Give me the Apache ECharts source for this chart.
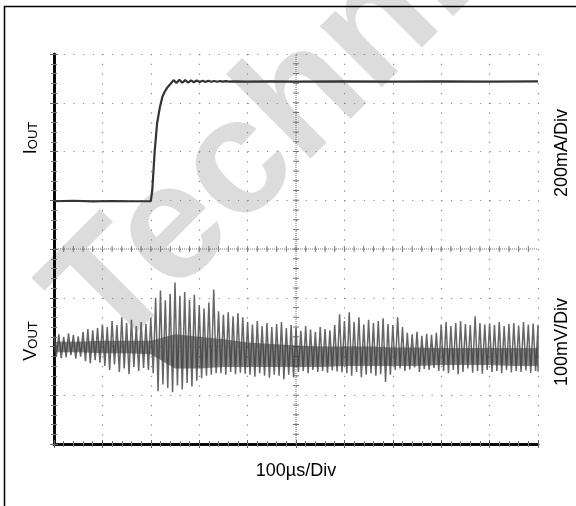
<!DOCTYPE html>
<html><head><meta charset="utf-8">
<script src="https://cdn.jsdelivr.net/npm/echarts@6/dist/echarts.min.js"></script>
<style>html,body{margin:0;padding:0;background:#fff}#c{width:576px;height:506px}</style>
</head><body><div id="c"></div>
<script>
// ---------- data ----------
// Output current IOUT (mA) at time (µs)
const iTime = [0, 40, 80, 120, 160, 200, 203, 208, 213, 219, 224, 229, 235, 241, 247, 253, 259, 265, 271, 277, 283, 289, 295, 301, 307, 313, 319, 325, 331, 337, 343, 349, 355, 361, 370, 400, 450, 500, 600, 700, 800, 900, 1000];
const iOut  = [-4, -2, -5, -3, -4, -4, 40, 200, 316, 384, 425, 446, 465, 478, 493, 481, 494, 482, 493, 483, 492, 484, 491, 485, 490, 485, 490, 486, 489, 486, 489, 487, 489, 487, 488, 487, 488, 487, 488, 487, 488, 487, 488];

// Output voltage VOUT ripple envelope (mV, AC coupled), one sample every 10 µs from 0 to 1000 µs
const vStepUs = 10;
const vHigh = [22, 25, 20, 27, 24, 21,
  30, 36, 33, 38,
  45, 40, 52, 44, 60, 48, 55, 42, 50, 46,
  58,
  100, 115, 95, 108, 131, 104, 112, 96, 106,
  85, 78, 90, 117,
  72, 65, 70, 62, 68, 60,
  50, 45, 52, 42, 48, 40, 46, 50, 38, 44,
  38, 32, 42, 35, 30, 40, 36, 33, 44, 66,
  52, 70, 50, 60, 45, 55, 48, 52, 58, 46,
  44, 60, 40, 28, 25, 30, 22, 26, 24, 28,
  45, 50, 42, 48, 52, 46, 44, 62, 48, 45,
  47, 44, 50, 42, 46, 48, 43, 50, 45, 47, 44];
const vLow = [-20, -24, -22, -18, -25, -21,
  -30, -34, -28, -33,
  -40, -48, -37, -52, -45, -57, -42, -50, -44, -48,
  -55,
  -92, -78, -85, -94, -80, -88, -75, -82, -70,
  -65, -60, -58, -55,
  -55, -58, -52, -57, -54, -56,
  -58, -62, -55, -60, -64, -58, -60, -67, -58, -63,
  -52, -50, -55, -48, -52, -50, -54, -49, -51, -53,
  -55, -60, -52, -63, -58, -55, -60, -57, -73, -58,
  -48, -45, -50, -47, -43, -52, -46, -48, -44, -50,
  -50, -55, -48, -57, -52, -45, -54, -50, -56, -48,
  -52, -50, -55, -48, -53, -50, -52, -49, -54, -50, -52];

// Dense dark core of the VOUT trace (mV), one sample every 50 µs
const coreStepUs = 50;
const coreHigh = [10, 10, 12, 12, 12, 25, 20, 15, 8, 5, 2, 0, 0, 0, -2, -2, -3, -3, -3, -3, -3];
const coreLow  = [-12, -12, -14, -14, -16, -45, -45, -42, -42, -42, -42, -42, -40, -40, -40, -40, -38, -38, -38, -40, -40];

// Texts
const timeLabel = '100µs/Div';
const iScaleLabel = '200mA/Div';
const vScaleLabel = '100mV/Div';
const watermark = 'Technical';

// ---------- chart ----------
const FONT = '"Liberation Sans", Arial, sans-serif';
const chart = echarts.init(document.getElementById('c'), null, {renderer: 'canvas'});

const iData = iTime.map((t, k) => [t, iOut[k]]);
const vZig = [];
vHigh.forEach((h, k) => {
  const t = k * vStepUs;
  vZig.push([t, h]);
  vZig.push([Math.min(t + vStepUs / 2, 1000), vLow[k]]);
});

const frameAxisCommon = {
  type: 'value',
  axisLine: {show: true, lineStyle: {color: '#000', width: 2.5}},
  axisTick: {show: true, inside: true, length: 4, lineStyle: {color: '#666', width: 1}},
  minorTick: {show: true, splitNumber: 5, length: 3, lineStyle: {color: '#777', width: 1}},
  axisLabel: {show: false}
};

function crossRender(params, api) {
  const ch = [];
  const c = (x, y) => api.coord([x, y]);
  const a = c(500, 0), b = c(500, 8), l = c(0, 4), r = c(1000, 4);
  ch.push({type: 'line', shape: {x1: a[0], y1: a[1], x2: b[0], y2: b[1]}, style: {stroke: '#777', lineWidth: 1, lineDash: [1, 1]}});
  ch.push({type: 'line', shape: {x1: l[0], y1: l[1], x2: r[0], y2: r[1]}, style: {stroke: '#777', lineWidth: 1, lineDash: [1, 1]}});
  for (let k = 1; k < 50; k++) {
    const p = c(k * 20, 4);
    ch.push({type: 'line', shape: {x1: p[0], y1: p[1] - 3, x2: p[0], y2: p[1] + 3}, style: {stroke: '#777', lineWidth: 1}});
  }
  for (let j = 1; j < 40; j++) {
    const p = c(500, j * 0.2);
    ch.push({type: 'line', shape: {x1: p[0] - 3, y1: p[1], x2: p[0] + 3, y2: p[1]}, style: {stroke: '#777', lineWidth: 1}});
  }
  return {type: 'group', children: ch};
}

function coreRender(params, api) {
  const pts = [];
  coreHigh.forEach((h, k) => pts.push(api.coord([k * coreStepUs, h])));
  for (let k = coreLow.length - 1; k >= 0; k--) pts.push(api.coord([k * coreStepUs, coreLow[k]]));
  return {type: 'polygon', shape: {points: pts}, style: {fill: '#3a3a3a', opacity: 0.6}};
}

chart.setOption({
  animation: false,
  backgroundColor: '#fff',
  grid: {left: 54, top: 54, width: 484, height: 390, containLabel: false},
  xAxis: [
    Object.assign({}, frameAxisCommon, {
      min: 0, max: 1000, interval: 100, position: 'bottom',
      splitLine: {show: true, lineStyle: {type: [1.2, 8.55], color: '#888', width: 1.2}}
    }),
    Object.assign({}, frameAxisCommon, {
      min: 0, max: 1000, interval: 100, position: 'top', splitLine: {show: false}
    })
  ],
  yAxis: [
    Object.assign({}, frameAxisCommon, {
      min: 0, max: 8, interval: 1, position: 'left',
      splitLine: {show: true, lineStyle: {type: [1.2, 8.48], color: '#888', width: 1.2}}
    }),
    Object.assign({}, frameAxisCommon, {
      min: 0, max: 8, interval: 1, position: 'right', splitLine: {show: false}
    }),
    {type: 'value', min: -1000, max: 600, show: false},
    {type: 'value', min: -200, max: 600, show: false}
  ],
  graphic: [
    {type: 'text', x: 78, y: 327, rotation: 45 * Math.PI / 180, z: -10, silent: true,
     style: {text: watermark, font: 'bold 165px ' + FONT, fill: '#dcdcdc', align: 'left', verticalAlign: 'middle'}},
    {type: 'polyline', z: 10, silent: true,
     shape: {points: [[4.5, 506], [4.5, 6.5], [576, 6.5]]}, style: {stroke: '#000', lineWidth: 1.5, fill: null}},
    {type: 'text', x: 30, y: 138, rotation: Math.PI / 2, z: 10,
     style: {text: '{m|I}{s|OUT}', align: 'center', verticalAlign: 'middle',
       rich: {m: {fontSize: 18, fontFamily: FONT, fill: '#000', verticalAlign: 'bottom', lineHeight: 20},
              s: {fontSize: 13, fontFamily: FONT, fill: '#000', verticalAlign: 'bottom', lineHeight: 20}}}},
    {type: 'text', x: 30, y: 341, rotation: Math.PI / 2, z: 10,
     style: {text: '{m|V}{s|OUT}', align: 'center', verticalAlign: 'middle',
       rich: {m: {fontSize: 18, fontFamily: FONT, fill: '#000', verticalAlign: 'bottom', lineHeight: 20},
              s: {fontSize: 13, fontFamily: FONT, fill: '#000', verticalAlign: 'bottom', lineHeight: 20}}}},
    {type: 'text', x: 562, y: 153, rotation: Math.PI / 2, z: 10,
     style: {text: iScaleLabel, font: '18px ' + FONT, fill: '#000', align: 'center', verticalAlign: 'middle'}},
    {type: 'text', x: 562, y: 342, rotation: Math.PI / 2, z: 10,
     style: {text: vScaleLabel, font: '18px ' + FONT, fill: '#000', align: 'center', verticalAlign: 'middle'}},
    {type: 'text', x: 296, y: 471, z: 10,
     style: {text: timeLabel, font: '18px ' + FONT, fill: '#000', align: 'center', verticalAlign: 'middle'}}
  ],
  series: [
    {type: 'custom', name: 'crosshair', xAxisIndex: 0, yAxisIndex: 0, silent: true, z: 1,
     data: [[500, 4]], renderItem: crossRender},
    {type: 'line', name: 'VOUT', xAxisIndex: 0, yAxisIndex: 3, data: vZig, showSymbol: false, silent: true, z: 3,
     lineStyle: {color: '#555', width: 1.5, opacity: 0.9}},
    {type: 'custom', name: 'VOUT core', xAxisIndex: 0, yAxisIndex: 3, silent: true, z: 4,
     data: [[500, 0]], renderItem: coreRender},
    {type: 'line', name: 'IOUT', xAxisIndex: 0, yAxisIndex: 2, data: iData, showSymbol: false, silent: true, z: 5,
     lineStyle: {color: '#333', width: 2.2}}
  ]
});
</script></body></html>
